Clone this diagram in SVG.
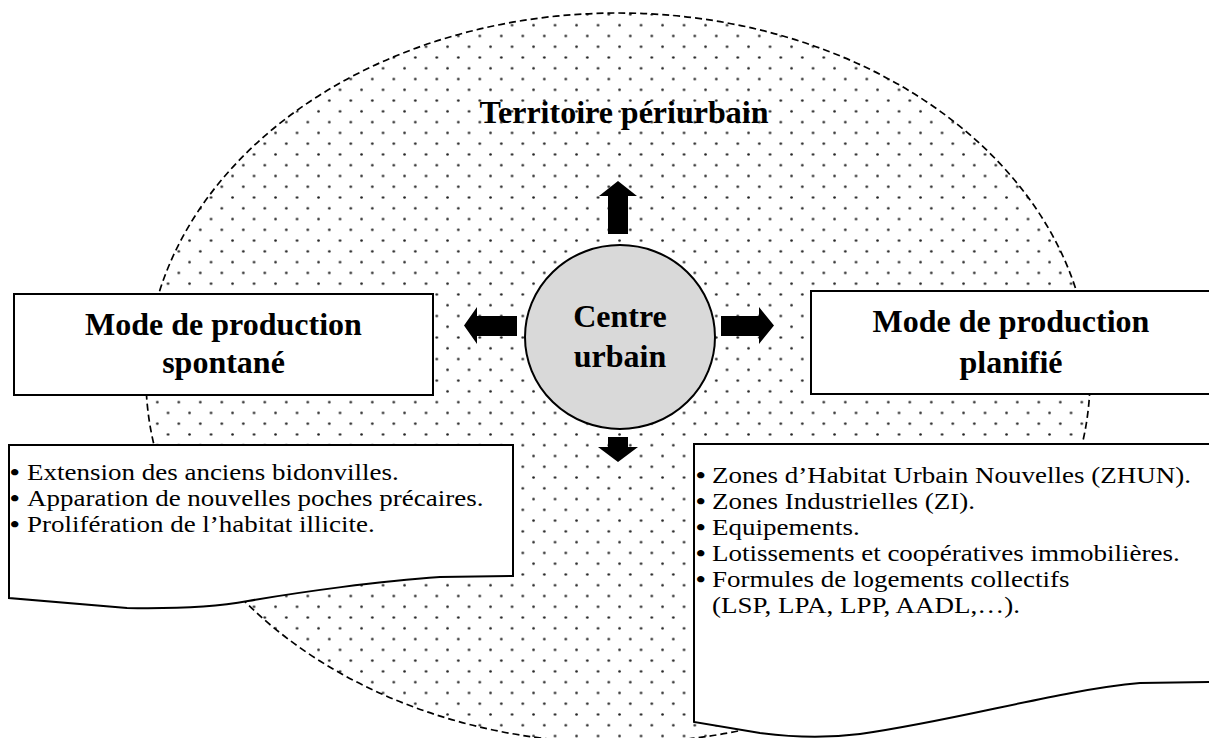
<svg xmlns="http://www.w3.org/2000/svg" width="1209" height="738" viewBox="0 0 1209 738">
  <style>
    .title { font-family: "Liberation Serif", "Times New Roman", serif; font-weight: bold; font-size: 32px; fill: #000; }
    .body { font-family: "Liberation Serif", "Times New Roman", serif; font-size: 27px; fill: #000; }
    .bl { font-weight: bold; }
    .box { fill: #fff; stroke: #000; stroke-width: 2; }
    .arrow { fill: #000; stroke: none; }
  </style>
  <defs>
    <pattern id="dots" patternUnits="userSpaceOnUse" x="1.425" y="9.04" width="21.5" height="21.54">
      <circle cx="5.375" cy="5.385" r="1.3" fill="#222"/>
      <circle cx="16.125" cy="16.155" r="1.3" fill="#222"/>
    </pattern>
  </defs>

  <rect width="1209" height="738" fill="#fff"/>

  <!-- peri-urban territory: dotted area with dashed outline -->
  <g id="territoire">
    <ellipse cx="618" cy="378" rx="472" ry="365" fill="url(#dots)" stroke="#000" stroke-width="1.7" stroke-dasharray="7 4"/>
    <text class="title" x="624" y="123" text-anchor="middle">Territoire périurbain</text>
  </g>

  <!-- growth arrows leaving the centre -->
  <g id="connectors">
    <polygon class="arrow" points="608,234 608,196 599,196 618,181 637,196 628,196 628,234"/>
    <polygon class="arrow" points="517,316 477,316 477,307 464,325.5 477,344 477,336 517,336"/>
    <polygon class="arrow" points="721,316 759,316 759,307 774,325.5 759,344 759,336 721,336"/>
    <polygon class="arrow" points="608,437 628,437 628,447 638,447 618,462 598,447 608,447"/>
  </g>

  <g id="centre">
    <ellipse cx="620" cy="337" rx="95" ry="92" fill="#d9d9d9" stroke="#000" stroke-width="2"/>
    <text class="title" x="620" y="327" text-anchor="middle">Centre</text>
    <text class="title" x="620" y="367" text-anchor="middle">urbain</text>
  </g>

  <g id="mode-spontane">
    <rect class="box" x="14" y="294" width="419" height="101"/>
    <text class="title" x="223.5" y="335" text-anchor="middle">Mode de production</text>
    <text class="title" x="223.5" y="373" text-anchor="middle">spontané</text>
  </g>

  <g id="mode-planifie">
    <rect class="box" x="811" y="291" width="402" height="103"/>
    <text class="title" x="1011" y="332" text-anchor="middle">Mode de production</text>
    <text class="title" x="1011" y="373" text-anchor="middle">planifié</text>
  </g>

  <!-- bulleted lists in document-shaped frames; the list text is set condensed
       vertically (scale 0.85), so y values below are baseline / 0.85 -->
  <g id="liste-spontane">
    <path class="box" d="M9,445 H513 V576 L440,577 C380,581 300,592 248,601 C215,607 180,609 127,608 L9,598 Z"/>
    <text class="body" transform="scale(1,0.85)">
      <tspan class="bl" x="10" y="564.7">•</tspan><tspan x="27" y="564.7">Extension des anciens bidonvilles.</tspan>
      <tspan class="bl" x="10" y="595.3">•</tspan><tspan x="27" y="595.3">Apparation de nouvelles poches précaires.</tspan>
      <tspan class="bl" x="10" y="625.9">•</tspan><tspan x="27" y="625.9">Prolifération de l’habitat illicite.</tspan>
    </text>
  </g>

  <g id="liste-planifie">
    <path class="box" d="M694,444 H1215 V682 L1140,683 C1060,690 960,720 860,734 C820,739 790,737 760,733 L694,722 Z"/>
    <text class="body" transform="scale(1,0.85)">
      <tspan class="bl" x="696" y="568.2">•</tspan><tspan x="712" y="568.2">Zones d’Habitat Urbain Nouvelles (ZHUN).</tspan>
      <tspan class="bl" x="696" y="598.8">•</tspan><tspan x="712" y="598.8">Zones Industrielles (ZI).</tspan>
      <tspan class="bl" x="696" y="629.4">•</tspan><tspan x="712" y="629.4">Equipements.</tspan>
      <tspan class="bl" x="696" y="660">•</tspan><tspan x="712" y="660">Lotissements et coopératives immobilières.</tspan>
      <tspan class="bl" x="696" y="690.6">•</tspan><tspan x="712" y="690.6">Formules de logements collectifs</tspan>
      <tspan x="712" y="721.2">(LSP, LPA, LPP, AADL,…).</tspan>
    </text>
  </g>
</svg>
